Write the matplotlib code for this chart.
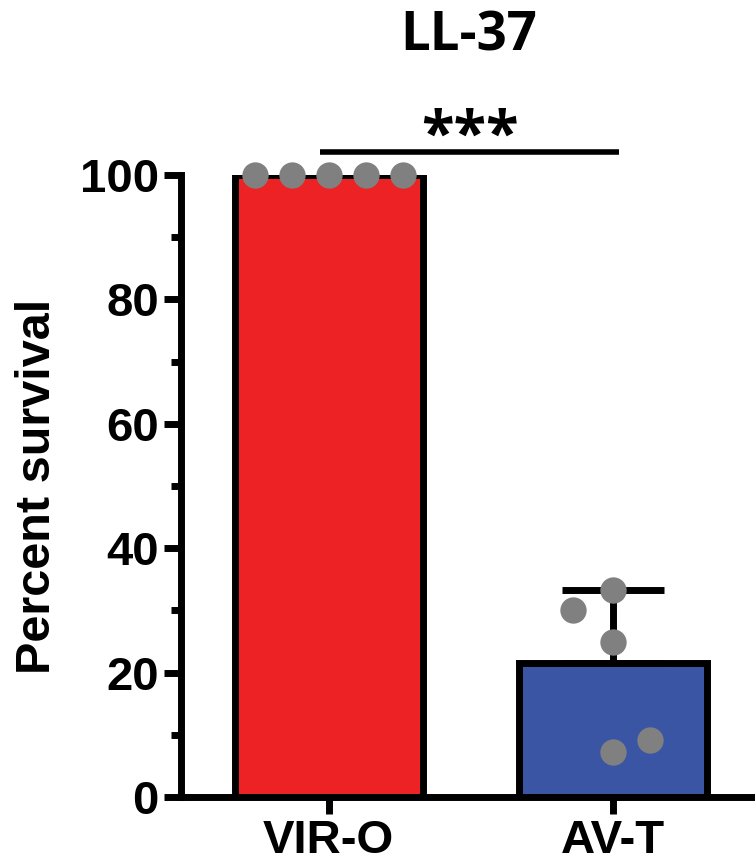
import matplotlib
matplotlib.use('Agg')
import matplotlib.pyplot as plt
import numpy as np

groups = ['VIR-O', 'AV-T']
means = [100, 21.5]
sd_upper = [0, 11.7]
points = [
    [100, 100, 100, 100, 100],
    [30, 33.3, 25, 7.2, 9.2],
]
jitter = [
    [-0.26, -0.13, 0.0, 0.13, 0.26],
    [-0.14, 0.0, 0.0, 0.0, 0.13],
]
bar_colors = ['#ED2224', '#3A55A4']
title = 'LL-37'
ylabel = 'Percent survival'
stars = '***'

plt.rcParams['font.family'] = ['Liberation Sans', 'DejaVu Sans']

fig = plt.figure(figsize=(7.55, 8.65), dpi=100)
ax = fig.add_axes([0.2397, 0.0786, 0.7603, 0.7191])

lw = 5
x = np.arange(len(groups))
ax.bar(x, means, width=0.66, color=bar_colors, edgecolor='black', linewidth=lw, zorder=2)

# upper error bar only
ax.errorbar(x[1:], means[1:], yerr=[[0], sd_upper[1:]], fmt='none', ecolor='black',
            elinewidth=lw, capsize=37, capthick=lw, zorder=3)

for i, vals in enumerate(points):
    ax.scatter(x[i] + np.array(jitter[i]), vals, s=360, color='#808080', zorder=4,
               clip_on=False, linewidths=0)

ax.set_xlim(-0.52, 1.5)
ax.set_ylim(0, 100)
ax.set_yticks(np.arange(0, 101, 20))
ax.set_yticks(np.arange(10, 100, 20), minor=True)
ax.set_xticks(x)
ax.set_xticklabels(groups)

for s in ['top', 'right']:
    ax.spines[s].set_visible(False)
for s in ['left', 'bottom']:
    ax.spines[s].set_linewidth(lw)

ax.tick_params(axis='both', which='major', width=lw, length=12, labelsize=34, pad=4)
ax.tick_params(axis='y', which='minor', width=lw, length=7)
for lab in ax.get_xticklabels() + ax.get_yticklabels():
    lab.set_fontweight('bold')

ax.set_ylabel(ylabel, fontsize=35, fontweight='bold', labelpad=14)

# significance bracket
ax.plot([-0.03, 1.02], [103.7, 103.7], color='black', lw=4, clip_on=False, solid_capstyle='butt')
ax.text(0.495, 101.0, stars, ha='center', va='bottom', fontsize=43, fontweight='bold',
        family=['Open Sans', 'DejaVu Sans'])

fig.text(0.621, 0.958, title, ha='center', va='center', fontsize=38, fontweight='bold',
         family=['Open Sans', 'DejaVu Sans'])

fig.savefig('out.png', dpi=100)
